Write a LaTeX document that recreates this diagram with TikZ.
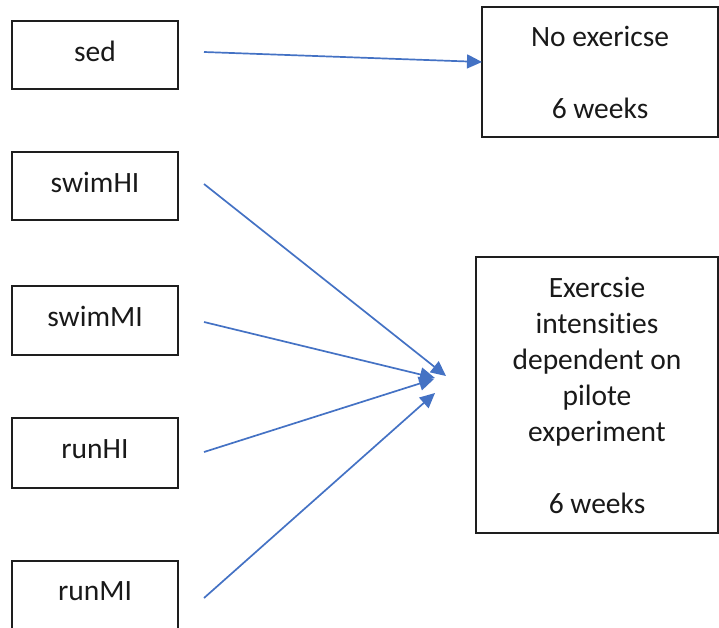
\documentclass[tikz,border=0pt]{standalone}
\usepackage{fontspec}
\setmainfont{Carlito}[RawFeature={-liga;-clig;-calt;-dlig}]
\usetikzlibrary{arrows.meta}
\definecolor{arrowblue}{RGB}{68,114,196}
\definecolor{boxline}{RGB}{30,30,30}
\definecolor{txt}{RGB}{25,25,25}
\begin{document}
\begin{tikzpicture}[x=1pt,y=-1pt,
  box/.style={draw=boxline, line width=1.5pt, rectangle, inner sep=0pt, align=center,
    text=txt, font=\fontsize{29.5}{36}\selectfont},
  lbox/.style={box, minimum width=166pt, text depth=8pt},
  conn/.style={draw=arrowblue, line width=1.7pt, -{Triangle[length=15pt,width=14pt]}}]
\useasboundingbox (0,0) rectangle (719,627);
\node[lbox, minimum height=68pt] (sed) at (95,55) {sed};
\node[lbox, minimum height=68pt] (swimHI) at (95,186) {swimHI};
\node[lbox, minimum height=69pt] (swimMI) at (95,320.5) {swimMI};
\node[lbox, minimum height=70pt] (runHI) at (95,453) {runHI};
\node[lbox, minimum height=68pt] (runMI) at (95,595) {runMI};
\node[box, minimum width=236pt, minimum height=130pt] (noex) at (600,72) {No exericse\\[36pt]6 weeks};
\node[box, minimum width=242pt, minimum height=276pt] (ex) at (597,395)
  {Exercsie\\intensi\kern0pt ti\kern0pt es\\dependent on\\pilote\\experiment\\[36pt]6 weeks};
\coordinate (s1) at (204,52);   \coordinate (e1) at (482,62);
\coordinate (s2) at (204,184);  \coordinate (e2) at (446,376);
\coordinate (s3) at (204,322);  \coordinate (e3) at (435,378);
\coordinate (s4) at (204,452);  \coordinate (e4) at (434,379);
\coordinate (s5) at (204,598);  \coordinate (e5) at (435,393);
\draw[conn] (s1) -- (e1);
\draw[conn] (s2) -- (e2);
\draw[conn] (s3) -- (e3);
\draw[conn] (s4) -- (e4);
\draw[conn] (s5) -- (e5);
\end{tikzpicture}
\end{document}
